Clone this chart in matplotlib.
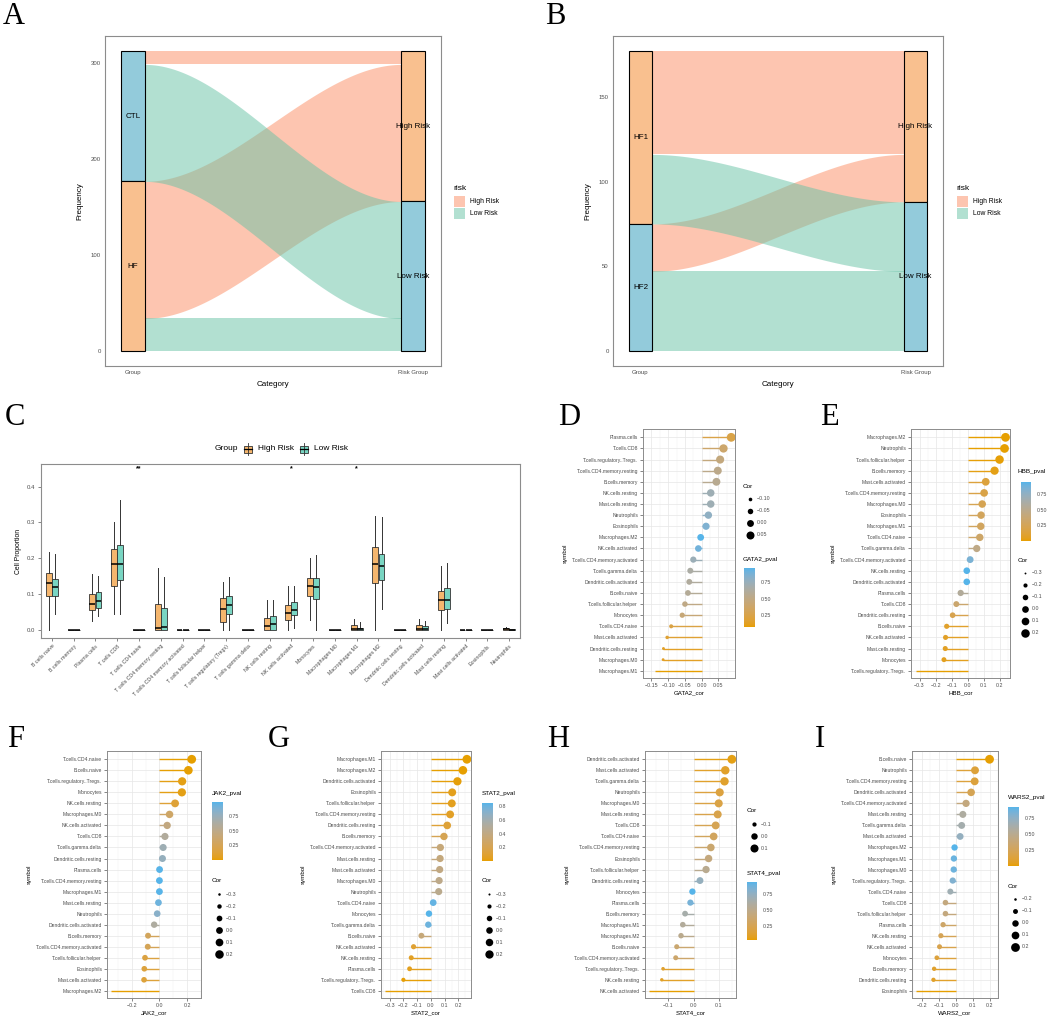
import numpy as np
import matplotlib
matplotlib.use('Agg')
import matplotlib.pyplot as plt
from matplotlib.colors import ListedColormap, Normalize
from matplotlib.cm import ScalarMappable
from matplotlib.patches import Rectangle

plt.rcParams['font.family'] = ['Liberation Sans', 'DejaVu Sans']

W, H = 1052, 1018

# ---------------- data: alluvial A ----------------
A_groups = ['CTL', 'HF']
A_risks = ['High Risk', 'Low Risk']
A_group_to_high = [14, 143]
A_group_to_low = [122, 34]
A_yticks = [0, 100, 200, 300]
# ---------------- data: alluvial B ----------------
B_groups = ['HF1', 'HF2']
B_risks = ['High Risk', 'Low Risk']
B_group_to_high = [61, 28]
B_group_to_low = [41, 47]
B_yticks = [0, 50, 100, 150]

# ---------------- data: boxplot C ----------------
C_cells = ['B cells naive', 'B cells memory', 'Plasma cells', 'T cells CD8', 'T cells CD4 naive',
           'T cells CD4 memory resting', 'T cells CD4 memory activated', 'T cells follicular helper',
           'T cells regulatory (Tregs)', 'T cells gamma delta', 'NK cells resting', 'NK cells activated',
           'Monocytes', 'Macrophages M0', 'Macrophages M1', 'Macrophages M2', 'Dendritic cells resting',
           'Dendritic cells activated', 'Mast cells resting', 'Mast cells activated', 'Eosinophils',
           'Neutrophils']
C_high_lo = [0.0, 0, 0.025, 0.045, 0, 0, 0, 0, 0.0, 0, 0, 0.0, 0.029, 0, 0, 0.0, 0, 0, 0.0, 0, 0, 0]
C_high_q1 = [0.096, 0, 0.057, 0.124, 0, 0, 0, 0, 0.022, 0, 0, 0.028, 0.095, 0, 0, 0.131, 0, 0, 0.056, 0, 0, 0]
C_high_med = [0.132, 0, 0.073, 0.183, 0, 0.007, 0, 0, 0.058, 0, 0.012, 0.048, 0.123, 0, 0.003, 0.184, 0, 0.003, 0.084, 0, 0, 0.002]
C_high_q3 = [0.159, 0, 0.100, 0.225, 0, 0.073, 0, 0, 0.090, 0, 0.034, 0.070, 0.145, 0, 0.013, 0.231, 0, 0.015, 0.110, 0, 0, 0.005]
C_high_hi = [0.218, 0, 0.155, 0.302, 0, 0.173, 0, 0, 0.135, 0, 0.085, 0.122, 0.202, 0, 0.030, 0.319, 0, 0.032, 0.180, 0, 0, 0.010]
C_low_lo = [0.045, 0, 0.040, 0.045, 0, 0, 0, 0, 0.0, 0, 0, 0.006, 0.0, 0, 0, 0.059, 0, 0, 0.019, 0, 0, 0]
C_low_q1 = [0.095, 0, 0.063, 0.140, 0, 0, 0, 0, 0.045, 0, 0, 0.043, 0.086, 0, 0, 0.140, 0, 0, 0.058, 0, 0, 0]
C_low_med = [0.120, 0, 0.082, 0.183, 0, 0.010, 0, 0, 0.071, 0, 0.017, 0.057, 0.120, 0, 0.002, 0.180, 0, 0.003, 0.083, 0, 0, 0.001]
C_low_q3 = [0.143, 0, 0.106, 0.237, 0, 0.061, 0, 0, 0.095, 0, 0.040, 0.078, 0.145, 0, 0.006, 0.212, 0, 0.011, 0.118, 0, 0, 0.003]
C_low_hi = [0.213, 0, 0.150, 0.363, 0, 0.148, 0, 0, 0.149, 0, 0.083, 0.122, 0.209, 0, 0.022, 0.314, 0, 0.024, 0.187, 0, 0, 0.004]
C_sig = ['', '', '', '', '**', '', '', '', '', '', '', '*', '', '', '*', '', '', '', '', '', '', '']
C_yticks = [0.0, 0.1, 0.2, 0.3, 0.4]

# ---------------- data: lollipops (top to bottom) ----------------
D_cells = ['Plasma.cells', 'T.cells.CD8', 'T.cells.regulatory..Tregs.', 'T.cells.CD4.memory.resting',
           'B.cells.memory', 'NK.cells.resting', 'Mast.cells.resting', 'Neutrophils', 'Eosinophils',
           'Macrophages.M2', 'NK.cells.activated', 'T.cells.CD4.memory.activated', 'T.cells.gamma.delta',
           'Dendritic.cells.activated', 'B.cells.naive', 'T.cells.follicular.helper', 'Monocytes',
           'T.cells.CD4.naive', 'Mast.cells.activated', 'Dendritic.cells.resting', 'Macrophages.M0',
           'Macrophages.M1']
D_cor = [0.088, 0.065, 0.055, 0.048, 0.044, 0.027, 0.027, 0.020, 0.013, -0.003, -0.010, -0.025, -0.034,
         -0.037, -0.041, -0.050, -0.058, -0.091, -0.103, -0.114, -0.115, -0.139]
D_pval = [0.24, 0.39, 0.47, 0.53, 0.56, 0.72, 0.72, 0.79, 0.86, 0.97, 0.90, 0.74, 0.65, 0.62, 0.59, 0.51,
          0.44, 0.23, 0.17, 0.13, 0.13, 0.065]

E_cells = ['Macrophages.M2', 'Neutrophils', 'T.cells.follicular.helper', 'B.cells.memory',
           'Mast.cells.activated', 'T.cells.CD4.memory.resting', 'Macrophages.M0', 'Eosinophils',
           'Macrophages.M1', 'T.cells.CD4.naive', 'T.cells.gamma.delta', 'T.cells.CD4.memory.activated',
           'NK.cells.resting', 'Dendritic.cells.activated', 'Plasma.cells', 'T.cells.CD8',
           'Dendritic.cells.resting', 'B.cells.naive', 'NK.cells.activated', 'Mast.cells.resting',
           'Monocytes', 'T.cells.regulatory..Tregs.']
E_cor = [0.235, 0.229, 0.198, 0.167, 0.112, 0.102, 0.090, 0.083, 0.081, 0.075, 0.056, 0.015, -0.006,
         -0.006, -0.044, -0.071, -0.094, -0.131, -0.138, -0.140, -0.148, -0.325]
E_pval = [0.002, 0.002, 0.008, 0.026, 0.14, 0.18, 0.23, 0.27, 0.28, 0.32, 0.46, 0.84, 0.94, 0.94, 0.56,
          0.35, 0.21, 0.082, 0.067, 0.063, 0.049, 0.00001]

F_cells = ['T.cells.CD4.naive', 'B.cells.naive', 'T.cells.regulatory..Tregs.', 'Monocytes',
           'NK.cells.resting', 'Macrophages.M0', 'NK.cells.activated', 'T.cells.CD8', 'T.cells.gamma.delta',
           'Dendritic.cells.resting', 'Plasma.cells', 'T.cells.CD4.memory.resting', 'Macrophages.M1',
           'Mast.cells.resting', 'Neutrophils', 'Dendritic.cells.activated', 'B.cells.memory',
           'T.cells.CD4.memory.activated', 'T.cells.follicular.helper', 'Eosinophils',
           'Mast.cells.activated', 'Macrophages.M2']
F_cor = [0.233, 0.209, 0.164, 0.162, 0.113, 0.073, 0.056, 0.040, 0.027, 0.022, 0.001, 0.000, 0.000,
         -0.007, -0.016, -0.038, -0.082, -0.084, -0.104, -0.109, -0.111, -0.349]
F_pval = [0.002, 0.005, 0.029, 0.031, 0.13, 0.33, 0.46, 0.60, 0.72, 0.77, 0.99, 0.995, 0.99, 0.93, 0.83,
          0.62, 0.28, 0.26, 0.17, 0.15, 0.14, 0.000002]

G_cells = ['Macrophages.M1', 'Macrophages.M2', 'Dendritic.cells.activated', 'Eosinophils',
           'T.cells.follicular.helper', 'T.cells.CD4.memory.resting', 'Dendritic.cells.resting',
           'B.cells.memory', 'T.cells.CD4.memory.activated', 'Mast.cells.resting', 'Mast.cells.activated',
           'Macrophages.M0', 'Neutrophils', 'T.cells.CD4.naive', 'Monocytes', 'T.cells.gamma.delta',
           'B.cells.naive', 'NK.cells.activated', 'NK.cells.resting', 'Plasma.cells',
           'T.cells.regulatory..Tregs.', 'T.cells.CD8']
G_cor = [0.262, 0.233, 0.193, 0.155, 0.152, 0.140, 0.119, 0.095, 0.069, 0.067, 0.064, 0.060, 0.057, 0.017,
         -0.014, -0.019, -0.069, -0.126, -0.143, -0.155, -0.200, -0.333]
G_pval = [0.0004, 0.002, 0.010, 0.040, 0.044, 0.063, 0.11, 0.21, 0.36, 0.375, 0.40, 0.43, 0.45, 0.82, 0.85,
          0.80, 0.36, 0.095, 0.058, 0.040, 0.0076, 0.00001]

H_cells = ['Dendritic.cells.activated', 'Mast.cells.activated', 'T.cells.gamma.delta', 'Neutrophils',
           'Macrophages.M0', 'Mast.cells.resting', 'T.cells.CD8', 'T.cells.CD4.naive',
           'T.cells.CD4.memory.resting', 'Eosinophils', 'T.cells.follicular.helper', 'Dendritic.cells.resting',
           'Monocytes', 'Plasma.cells', 'B.cells.memory', 'Macrophages.M1', 'Macrophages.M2', 'B.cells.naive',
           'T.cells.CD4.memory.activated', 'T.cells.regulatory..Tregs.', 'NK.cells.resting',
           'NK.cells.activated']
H_cor = [0.151, 0.125, 0.122, 0.103, 0.099, 0.095, 0.087, 0.079, 0.068, 0.059, 0.049, 0.025, -0.005,
         -0.013, -0.034, -0.043, -0.050, -0.067, -0.071, -0.121, -0.126, -0.176]
H_pval = [0.045, 0.097, 0.105, 0.17, 0.19, 0.21, 0.25, 0.295, 0.37, 0.43, 0.52, 0.74, 0.95, 0.86, 0.65,
          0.57, 0.51, 0.375, 0.35, 0.11, 0.095, 0.019]

I_cells = ['B.cells.naive', 'Neutrophils', 'T.cells.CD4.memory.resting', 'Dendritic.cells.activated',
           'T.cells.CD4.memory.activated', 'Mast.cells.resting', 'T.cells.gamma.delta', 'Mast.cells.activated',
           'Macrophages.M2', 'Macrophages.M1', 'Macrophages.M0', 'T.cells.regulatory..Tregs.',
           'T.cells.CD4.naive', 'T.cells.CD8', 'T.cells.follicular.helper', 'Plasma.cells', 'NK.cells.resting',
           'NK.cells.activated', 'Monocytes', 'B.cells.memory', 'Dendritic.cells.resting', 'Eosinophils']
I_cor = [0.200, 0.114, 0.112, 0.091, 0.061, 0.042, 0.035, 0.026, -0.007, -0.011, -0.012, -0.018, -0.032,
         -0.061, -0.061, -0.075, -0.088, -0.096, -0.112, -0.128, -0.132, -0.237]
I_pval = [0.0076, 0.13, 0.14, 0.23, 0.42, 0.58, 0.64, 0.73, 0.93, 0.88, 0.87, 0.81, 0.67, 0.42, 0.42, 0.32,
          0.24, 0.20, 0.14, 0.089, 0.080, 0.0015]

# ---------------- styling ----------------
GRAYTXT = '#4D4D4D'
BORDER = '#8C8C8C'
FLOW_COLS = ['#FC8D62', '#66C2A5']
STRAT_ORANGE = '#F9C08F'
STRAT_BLUE = '#93CBDB'
BOX_COLS = ['#F5B66E', '#79D5C2']
SMAX = 40.0

_M = np.array([[0.4124564, 0.3575761, 0.1804375],
               [0.2126729, 0.7151522, 0.0721750],
               [0.0193339, 0.1191920, 0.9503041]])
_WHITE = np.array([0.95047, 1.0, 1.08883])


def to_lab(hexc):
    c = np.array([int(hexc[i:i + 2], 16) for i in (1, 3, 5)]) / 255.0
    c = np.where(c <= 0.04045, c / 12.92, ((c + 0.055) / 1.055) ** 2.4)
    xyz = _M @ c / _WHITE
    d = 6 / 29
    f = np.where(xyz > d ** 3, np.cbrt(xyz), xyz / (3 * d * d) + 4 / 29)
    return np.array([116 * f[1] - 16, 500 * (f[0] - f[1]), 200 * (f[1] - f[2])])


def from_lab(lab):
    L, a, b = lab
    fy = (L + 16) / 116
    f = np.array([fy + a / 500, fy, fy - b / 200])
    d = 6 / 29
    xyz = np.where(f > d, f ** 3, 3 * d * d * (f - 4 / 29)) * _WHITE
    lin = np.clip(np.linalg.inv(_M) @ xyz, 0, 1)
    return np.clip(np.where(lin <= 0.0031308, 12.92 * lin, 1.055 * lin ** (1 / 2.4) - 0.055), 0, 1)


_lo, _hi = to_lab('#E69F00'), to_lab('#56B4E9')
CMAP = ListedColormap([from_lab(_lo + (_hi - _lo) * t) for t in np.linspace(0, 1, 256)])

fig = plt.figure(figsize=(W / 100, H / 100), dpi=100)


def px_ax(x0, y0, x1, y1):
    return fig.add_axes([x0 / W, 1 - y1 / H, (x1 - x0) / W, (y1 - y0) / H])


def style_border(ax, lw=0.8):
    for sp in ax.spines.values():
        sp.set_color(BORDER)
        sp.set_linewidth(lw)


overlay_jobs = []


# ---------------- alluvial ----------------
def alluvial(box, groups, to_high, to_low, risks, group_cols, yticks, legend_x):
    ax = px_ax(*box)
    flows = np.array([to_high, to_low], float).T  # [group, risk]
    total = flows.sum()
    w = 0.085
    left, right = {}, {}
    top = total
    for gi in range(2):
        for ri in range(2):
            left[(gi, ri)] = (top - flows[gi, ri], top)
            top -= flows[gi, ri]
    top = total
    for ri in range(2):
        for gi in range(2):
            right[(gi, ri)] = (top - flows[gi, ri], top)
            top -= flows[gi, ri]
    t = np.linspace(0, 1, 200)
    s = 3 * t ** 2 - 2 * t ** 3
    x = 1 + w / 2 + (1 - w) * t
    for ri in range(2):
        for gi in range(2):
            l0, l1 = left[(gi, ri)]
            r0, r1 = right[(gi, ri)]
            ax.fill_between(x, l0 + (r0 - l0) * s, l1 + (r1 - l1) * s, color=FLOW_COLS[ri],
                            alpha=0.5, lw=0, zorder=1)
    top = total
    for gi, h in enumerate(flows.sum(axis=1)):
        ax.add_patch(Rectangle((1 - w / 2, top - h), w, h, fc=group_cols[gi], ec='black', lw=0.8, zorder=3))
        ax.text(1, top - h / 2, groups[gi], ha='center', va='center', fontsize=5.8, zorder=4)
        top -= h
    risk_cols = [STRAT_ORANGE, STRAT_BLUE]
    top = total
    for ri, h in enumerate(flows.sum(axis=0)):
        ax.add_patch(Rectangle((2 - w / 2, top - h), w, h, fc=risk_cols[ri], ec='black', lw=0.8, zorder=3))
        ax.text(2, top - h / 2, risks[ri], ha='center', va='center', fontsize=5.8, zorder=4)
        top -= h
    ax.set_xlim(0.9, 2.1)
    ax.set_ylim(-0.05 * total, 1.05 * total)
    ax.set_xticks([1, 2])
    ax.set_xticklabels(['Group', 'Risk Group'])
    ax.set_yticks(yticks)
    ax.tick_params(labelsize=4.3, labelcolor=GRAYTXT, length=0, pad=3)
    ax.set_xlabel('Category', fontsize=5.8, labelpad=4)
    ax.set_ylabel('Frequency', fontsize=5.8, labelpad=5)
    style_border(ax)
    overlay_jobs.append(('alluvial_legend', legend_x))


alluvial((105, 36, 441, 366), A_groups, A_group_to_high, A_group_to_low, A_risks,
         [STRAT_BLUE, STRAT_ORANGE], A_yticks, 453)
alluvial((613, 36, 943, 366), B_groups, B_group_to_high, B_group_to_low, B_risks,
         [STRAT_ORANGE, STRAT_BLUE], B_yticks, 956)

# ---------------- boxplot C ----------------
axc = px_ax(41, 464, 520, 638)
pos = np.arange(len(C_cells))
for (lo, q1, md, q3, hi), col, off in [((C_high_lo, C_high_q1, C_high_med, C_high_q3, C_high_hi), BOX_COLS[0], -0.14),
                                       ((C_low_lo, C_low_q1, C_low_med, C_low_q3, C_low_hi), BOX_COLS[1], 0.14)]:
    stats = [dict(whislo=lo[i], q1=q1[i], med=md[i], q3=q3[i], whishi=hi[i], fliers=[]) for i in range(len(pos))]
    axc.bxp(stats, positions=pos + off, widths=0.27, patch_artist=True, showfliers=False, showcaps=False,
            manage_ticks=False,
            boxprops=dict(facecolor=col, edgecolor='#333333', linewidth=0.6),
            medianprops=dict(color='black', linewidth=1.1),
            whiskerprops=dict(color='#333333', linewidth=0.7))
for i, lab in enumerate(C_sig):
    if lab:
        axc.text(pos[i], 0.449, lab, ha='center', va='center', fontsize=5, fontweight='bold')
axc.set_xlim(-0.5, len(C_cells) - 0.5)
axc.set_ylim(-0.022, 0.463)
axc.set_xticks(pos)
axc.set_xticklabels(C_cells, rotation=45, ha='right', rotation_mode='anchor', fontsize=3.8, color=GRAYTXT)
axc.set_yticks(C_yticks)
axc.set_yticklabels([f'{v:.1f}' for v in C_yticks], fontsize=4.3, color=GRAYTXT)
axc.tick_params(length=2, width=0.5, color='#555555', pad=2)
axc.set_ylabel('Cell Proportion', fontsize=4.9, labelpad=4)
style_border(axc)


# ---------------- lollipops ----------------
def lollipop(box, cells, cor, pval, gene, xticks, xfmt, cb_box, cb_ticks, cb_fmt, cor_breaks,
             cor_title_y, pval_title_y, leg_x):
    ax = px_ax(*box)
    n = len(cells)
    y = np.arange(n)[::-1]
    cor = np.asarray(cor, float)
    pval = np.asarray(pval, float)
    norm = Normalize(pval.min(), pval.max())
    cols = CMAP(norm(pval))
    vmin, vmax = cor.min(), cor.max()
    sizes = SMAX * (cor - vmin) / (vmax - vmin)
    ax.hlines(y, 0, cor, colors=cols, lw=1.0, zorder=2)
    ax.scatter(cor, y, s=sizes, c=cols, zorder=3, linewidths=0)
    ax.set_yticks(y)
    ax.set_yticklabels(cells, fontsize=3.6, color=GRAYTXT)
    ax.set_ylim(-0.65, n - 1 + 0.75)
    ax.set_xticks(xticks)
    ax.set_xticklabels([xfmt.format(v).replace('-', '\u2212') for v in xticks], fontsize=3.8, color=GRAYTXT)
    step = xticks[1] - xticks[0]
    ax.set_xticks(np.arange(xticks[0] - step / 2, xticks[-1] + step, step), minor=True)
    ax.grid(which='major', color='#E6E6E6', lw=0.5)
    ax.grid(which='minor', axis='x', color='#F0F0F0', lw=0.35)
    ax.set_axisbelow(True)
    ax.tick_params(which='major', length=2, width=0.5, color='#555555', pad=1.5)
    ax.tick_params(which='minor', length=0)
    ax.set_xlabel(f'{gene}_cor', fontsize=4.4, labelpad=2)
    ax.set_ylabel('symbol', fontsize=4.4, labelpad=3)
    style_border(ax, 0.7)
    cax = px_ax(*cb_box)
    cb = fig.colorbar(ScalarMappable(norm, CMAP), cax=cax)
    cb.outline.set_visible(False)
    cb.set_ticks(cb_ticks)
    cb.set_ticklabels([cb_fmt.format(v) for v in cb_ticks])
    cax.tick_params(length=2, width=0.5, color='white', labelsize=3.8, labelcolor=GRAYTXT, pad=2)
    overlay_jobs.append(('pval_title', leg_x, pval_title_y, f'{gene}_pval'))
    overlay_jobs.append(('cor_legend', leg_x, cor_title_y, cor_breaks, vmin, vmax))


lollipop((643, 429, 735, 678), D_cells, D_cor, D_pval, 'GATA2', [-0.15, -0.10, -0.05, 0.00, 0.05], '{:.2f}',
         (744, 568, 755, 627), [0.25, 0.50, 0.75], '{:.2f}', [-0.10, -0.05, 0.00, 0.05], 486, 560, 743)
lollipop((911, 429, 1010, 678), E_cells, E_cor, E_pval, 'HBB', [-0.3, -0.2, -0.1, 0.0, 0.1, 0.2], '{:.1f}',
         (1021, 482, 1031, 541), [0.25, 0.50, 0.75], '{:.2f}', [-0.3, -0.2, -0.1, 0.0, 0.1, 0.2], 560, 472, 1018)
lollipop((107, 751, 201, 998), F_cells, F_cor, F_pval, 'JAK2', [-0.2, 0.0, 0.2], '{:.1f}',
         (212, 802, 223, 860), [0.25, 0.50, 0.75], '{:.2f}', [-0.3, -0.2, -0.1, 0.0, 0.1, 0.2], 881, 793, 212)
lollipop((381, 751, 471, 998), G_cells, G_cor, G_pval, 'STAT2', [-0.3, -0.2, -0.1, 0.0, 0.1, 0.2], '{:.1f}',
         (482, 803, 493, 861), [0.2, 0.4, 0.6, 0.8], '{:.1f}', [-0.3, -0.2, -0.1, 0.0, 0.1, 0.2], 881, 793, 482)
lollipop((645, 751, 736, 998), H_cells, H_cor, H_pval, 'STAT4', [-0.1, 0.0, 0.1], '{:.1f}',
         (747, 882, 757, 940), [0.25, 0.50, 0.75], '{:.2f}', [-0.1, 0.0, 0.1], 811, 873, 747)
lollipop((912, 751, 998, 998), I_cells, I_cor, I_pval, 'WARS2', [-0.2, -0.1, 0.0, 0.1, 0.2], '{:.1f}',
         (1008, 807, 1019, 866), [0.25, 0.50, 0.75], '{:.2f}', [-0.2, -0.1, 0.0, 0.1, 0.2], 886, 798, 1008)

# ---------------- overlay: legends and panel letters ----------------
ov = fig.add_axes([0, 0, 1, 1], facecolor='none')
ov.set_xlim(0, W)
ov.set_ylim(H, 0)
ov.axis('off')

for job in overlay_jobs:
    if job[0] == 'alluvial_legend':
        lx = job[1]
        ov.text(lx, 188, 'risk', fontsize=6, va='center', ha='left')
        for k, (lab, col) in enumerate(zip(['High Risk', 'Low Risk'], FLOW_COLS)):
            yc = 201 + 12 * k
            ov.add_patch(Rectangle((lx + 1, yc - 5.5), 11, 11, fc=col, alpha=0.5, lw=0))
            ov.text(lx + 17, yc, lab, fontsize=4.9, va='center', ha='left')
    elif job[0] == 'pval_title':
        _, lx, ty, txt = job
        ov.text(lx, ty, txt, fontsize=4.6, va='center', ha='left')
    elif job[0] == 'cor_legend':
        _, lx, ty, breaks, vmin, vmax = job
        ov.text(lx, ty, 'Cor', fontsize=4.6, va='center', ha='left')
        for k, b in enumerate(breaks):
            yc = ty + 13 + 12 * k
            sz = SMAX * (b - vmin) / (vmax - vmin)
            if sz > 0:
                ov.scatter([lx + 7], [yc], s=sz, color='black', linewidths=0)
            lab = (f'{b:.2f}' if len(breaks) == 4 and abs(breaks[1] - breaks[0]) < 0.07 else f'{b:.1f}')
            ov.text(lx + 14, yc, lab.replace('-', '\u2212'), fontsize=3.8, va='center', ha='left', color=GRAYTXT)

# boxplot legend
ov.text(215, 449, 'Group', fontsize=6, va='center', ha='left')
for lx, col, lab in [(244, BOX_COLS[0], 'High Risk'), (300, BOX_COLS[1], 'Low Risk')]:
    ov.plot([lx + 4, lx + 4], [443, 455], color='#333333', lw=0.6)
    ov.add_patch(Rectangle((lx, 445.5), 8, 7, fc=col, ec='#333333', lw=0.6))
    ov.plot([lx, lx + 8], [449, 449], color='black', lw=0.9)
    ov.text(lx + 14, 449, lab, fontsize=6, va='center', ha='left')

for letter, x, yb in [('A', 3, 24), ('B', 545, 24), ('C', 5, 425), ('D', 558, 425), ('E', 820, 425),
                      ('F', 7, 747), ('G', 268, 747), ('H', 547, 747), ('I', 815, 747)]:
    ov.text(x, yb, letter, fontsize=22, family=['Liberation Serif', 'DejaVu Serif'], va='baseline', ha='left')

fig.savefig('out.png', dpi=100)
